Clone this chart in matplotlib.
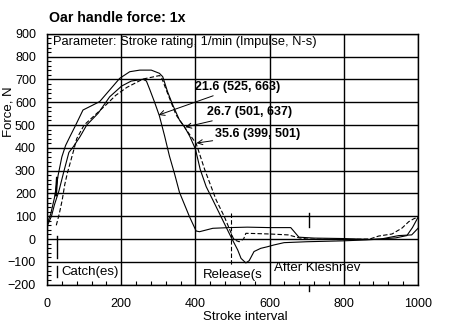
import matplotlib
matplotlib.use("Agg")
import matplotlib.pyplot as plt
from matplotlib.ticker import MultipleLocator

# curves: stroke interval vs force, N
a_x = [0, 12, 20, 32, 46, 59, 71, 89, 107, 138, 169, 201, 227, 259, 268, 277, 290, 303, 317, 330,
       344, 357, 384, 402, 411, 447, 491, 540, 600, 657, 679, 720, 800, 870, 900, 940, 970, 985, 1000]
a_y = [55, 100, 150, 210, 300, 380, 405, 449, 500, 552, 624, 671, 693, 701, 693, 656, 600, 540, 452, 364,
       285, 205, 98, 35, 32, 47, 50, 52, 50, 50, 8, 4, 2, -2, 0, 5, 15, 50, 95]

b_x = [0, 10, 20, 30, 40, 50, 62, 75, 97, 124, 142, 169, 196, 223, 250, 281, 303, 312, 325, 339, 357,
       370, 385, 400, 413, 429, 447, 469, 491, 500, 514, 523, 536, 545, 558, 576, 594, 612, 639, 700,
       800, 860, 900, 948, 983, 1000]
b_y = [65, 110, 180, 280, 360, 410, 450, 492, 566, 588, 603, 654, 705, 734, 741, 741, 727, 712, 646, 588, 522,
       494, 450, 395, 305, 230, 171, 98, 25, -4, -48, -85, -105, -95, -55, -41, -34, -26, -16, -12,
       -8, -4, 0, 15, 18, 47]

c_x = [25, 33, 41, 48, 55, 72, 80, 100, 130, 160, 185, 215, 259, 303, 308, 320, 348, 379, 402, 425,
       440, 456, 478, 491, 501, 505, 518, 530, 536, 560, 600, 650, 680, 700, 800, 870, 894, 930, 957,
       975, 990, 1000]
c_y = [60, 110, 171, 240, 290, 390, 440, 500, 545, 590, 630, 665, 702, 717, 712, 660, 544, 471, 419, 305,
       240, 171, 98, 47, 7, -4, -12, 0, 25, 24, 22, 18, 5, 0, -3, 0, 13, 22, 48,
       76, 90, 95]

labels = ["21.6 (525, 663)", "26.7 (501, 637)", "35.6 (399, 501)"]
label_xy = [(400, 667), (432, 557), (454, 460)]
arrow_xy = [(301, 544), (373, 491), (403, 421)]

catch_x = 26
release_x = 497
kleshnev_x = 707

font = "Liberation Sans"

fig = plt.figure(figsize=(4.55, 3.29), dpi=100)
ax = fig.add_axes([0.1033, 0.135, 0.8154, 0.762])

ax.plot(a_x, a_y, color="black", lw=0.8)
ax.plot(b_x, b_y, color="black", lw=0.8)
ax.plot(c_x, c_y, color="black", lw=0.8, linestyle=(0, (4, 2)))

# markers for catch, release and the author
ax.plot([catch_x, catch_x], [-85, 15], color="black", lw=1)
ax.plot([catch_x - 2, catch_x + 1], [192, 268], color="black", lw=1.6)
ax.plot([catch_x + 2, catch_x + 2], [-120, -165], color="black", lw=1)
ax.plot([release_x, release_x], [113, -114], color="black", lw=0.8, linestyle=(0, (4, 2)))
ax.plot([kleshnev_x, kleshnev_x], [114, 53], color="black", lw=1)
ax.plot([kleshnev_x, kleshnev_x], [-200, -230], color="black", lw=1, clip_on=False)

ax.set_xlim(0, 1000)
ax.set_ylim(-200, 900)
ax.xaxis.set_major_locator(MultipleLocator(200))
ax.xaxis.set_minor_locator(MultipleLocator(40))
ax.yaxis.set_major_locator(MultipleLocator(100))
ax.yaxis.set_minor_locator(MultipleLocator(20))
ax.grid(True, which="major", color="black", lw=1)
ax.tick_params(which="both", direction="in", top=False, right=False, length=0)
ax.tick_params(axis="x", pad=10)
ax.tick_params(axis="y", pad=8)
ax.tick_params(which="minor", length=3, width=0.8)
for s in ax.spines.values():
    s.set_linewidth(1)

for t in ax.get_xticklabels() + ax.get_yticklabels():
    t.set_family(font)
    t.set_fontsize(9)

ax.text(16, 864, "Parameter: Stroke rating, 1/min (Impulse, N-s)", fontsize=9.3,
        family=font, va="center")
for lab, txy, pxy in zip(labels, label_xy, arrow_xy):
    ax.annotate(lab, xy=pxy, xytext=txy, fontsize=9, fontweight="bold",
                family=font, va="center", ha="left",
                arrowprops=dict(arrowstyle="->", lw=0.7, color="black", shrinkA=0, shrinkB=0))

ax.text(40, -145, "Catch(es)", fontsize=9.5, family=font, va="center")
ax.text(419, -158, "Release(s", fontsize=9.5, family=font, va="center")
ax.text(612, -127, "After Kleshnev", fontsize=9.5, family=font, va="center")

fig.text(49 / 455, 1 - 18 / 329, "Oar handle force: 1x", fontsize=10.2, fontweight="bold",
         family=font, va="center")
fig.text(9 / 455, 1 - 112 / 329, "Force, N", fontsize=9.5, family=font,
         rotation=90, va="center", ha="center")
fig.text(203 / 455, 1 - 317 / 329, "Stroke interval", fontsize=9.5, family=font,
         va="center")

fig.savefig("out.png", dpi=100)
